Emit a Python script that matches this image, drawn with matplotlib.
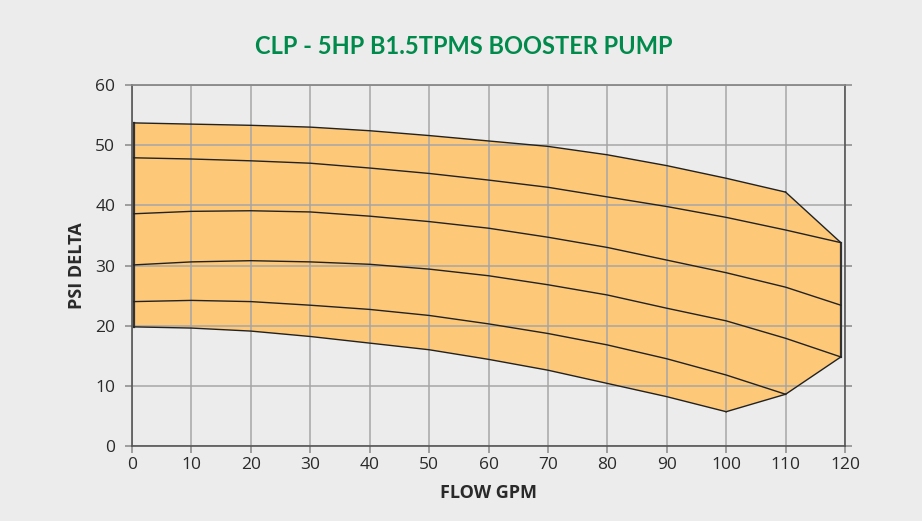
import matplotlib.pyplot as plt
import numpy as np

# Pump curve data (flow in GPM, pressure in PSI)
flow = [0.3, 10, 20, 30, 40, 50, 60, 70, 80, 90, 100, 110]
x_end = 119.3  # right edge of the operating envelope

curve1 = [53.7, 53.5, 53.3, 53.0, 52.4, 51.6, 50.7, 49.8, 48.4, 46.6, 44.5, 42.2]
curve2 = [47.9, 47.7, 47.4, 47.0, 46.2, 45.3, 44.2, 43.0, 41.4, 39.8, 38.0, 35.9, 33.8]
curve3 = [38.6, 39.0, 39.1, 38.9, 38.2, 37.3, 36.2, 34.7, 33.0, 30.9, 28.8, 26.4, 23.4]
curve4 = [30.1, 30.6, 30.8, 30.6, 30.2, 29.4, 28.3, 26.8, 25.1, 22.9, 20.8, 17.9, 14.8]
curve5 = [24.0, 24.2, 24.0, 23.4, 22.7, 21.7, 20.3, 18.7, 16.8, 14.5, 11.8, 8.6]
curve6 = [19.8, 19.6, 19.1, 18.2, 17.1, 16.0, 14.4, 12.6, 10.4, 8.2, 5.7]

xticks = list(range(0, 121, 10))
yticks = list(range(0, 61, 10))

bg = '#ececec'
fill_col = '#fdc878'
grid_col = '#a6a6a6'

fig = plt.figure(figsize=(9.22, 5.21), dpi=100, facecolor=bg)
ax = fig.add_axes([132/922, 1-446/521, (845-132)/922, (446-85)/521])
ax.set_facecolor(bg)

# Envelope polygon: top curve, right edge, bottom curves back to the start
flow_long = flow + [x_end]
px = [flow[0]] + flow + [x_end, x_end] + flow[::-1][:1] + flow[:11][::-1]
py = [curve6[0]] + curve1 + [curve2[-1], curve4[-1]] + curve5[-1:] + curve6[::-1]
ax.fill(px, py, color=fill_col, zorder=1, lw=0)

# outline of the envelope
ax.plot([flow[0], flow[0]], [curve6[0], curve1[0]], color='#333333', lw=1.6, zorder=3)
ax.plot([flow[-1], x_end], [curve1[-1], curve2[-1]], color='#222222', lw=1, zorder=3)
ax.plot([x_end, x_end], [curve2[-1], curve4[-1]], color='#333333', lw=1.6, zorder=3)
ax.plot([flow[-1], x_end], [curve5[-1], curve4[-1]], color='#222222', lw=1, zorder=3)
ax.plot([flow[10], flow[11]], [curve6[-1], curve5[-1]], color='#222222', lw=1, zorder=3)

# pump curves
ax.plot(flow, curve1, color='#222222', lw=1, zorder=3)
ax.plot(flow_long, curve2, color='#222222', lw=1, zorder=3)
ax.plot(flow_long, curve3, color='#222222', lw=1, zorder=3)
ax.plot(flow_long, curve4, color='#222222', lw=1, zorder=3)
ax.plot(flow, curve5, color='#222222', lw=1, zorder=3)
ax.plot(flow[:11], curve6, color='#222222', lw=1, zorder=3)

ax.set_xlim(0, 120)
ax.set_ylim(0, 60)
ax.set_xticks(xticks)
ax.set_yticks(yticks)
ax.grid(True, color=grid_col, lw=1.1, zorder=2)
ax.set_axisbelow(False)

for s in ['left', 'bottom']:
    ax.spines[s].set_color('#555555')
    ax.spines[s].set_linewidth(1.2)
ax.spines['top'].set_color('#888888')
ax.spines['top'].set_linewidth(1.3)
ax.spines['right'].set_color('#555555')
ax.spines['right'].set_linewidth(1.2)
for s in ax.spines.values():
    s.set_zorder(4)

ax.tick_params(axis='both', direction='out', length=5, width=1.1, color='#888888',
               labelsize=12.5, labelcolor='#2a2a2a')
ax.tick_params(axis='y', right=True, pad=7)
ax.tick_params(axis='x', pad=3)
for lab in ax.get_xticklabels() + ax.get_yticklabels():
    lab.set_fontfamily('Open Sans')

ax.set_xlabel('FLOW GPM', fontsize=13, fontweight='bold', family='Open Sans',
              color='#2a2a2a', labelpad=8)
ax.set_ylabel('PSI DELTA', fontsize=13, fontweight='bold', family='Open Sans',
              color='#2a2a2a', labelpad=7)

fig.text(0.503, 0.91, 'CLP - 5HP B1.5TPMS BOOSTER PUMP', ha='center', va='center',
         fontsize=17, fontweight='bold', family='Lato', color='#008a4c')

fig.savefig('out.png', dpi=100, facecolor=bg)
